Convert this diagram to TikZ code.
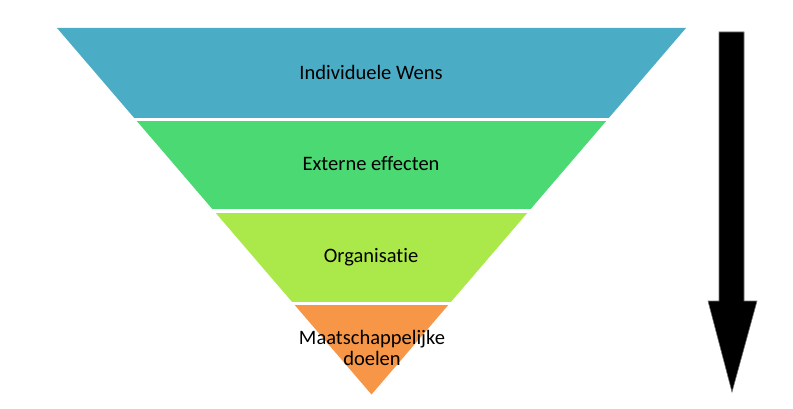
\documentclass[tikz,border=0pt]{standalone}
\usepackage{fontspec}
\setmainfont[Ligatures=NoCommon]{Carlito}
\definecolor{bandA}{RGB}{75,172,198}
\definecolor{bandB}{RGB}{74,217,114}
\definecolor{bandC}{RGB}{171,232,74}
\definecolor{bandD}{RGB}{247,150,70}
\begin{document}
\begin{tikzpicture}[x=1pt,y=-1pt,
  lbl/.style={font=\fontsize{20.5}{21}\selectfont, align=center, text=black, inner sep=0pt},
  gap/.style={draw=white, line width=3pt}]
\useasboundingbox (0,0) rectangle (793,409);
\coordinate (tl) at (57,28);
\coordinate (tr) at (686,28);
\coordinate (ap) at (371.5,394.5);
% bands
\begin{scope}
  \clip (0,0) rectangle (793,119.5);
  \fill[bandA] (tl) -- (tr) -- (ap) -- cycle;
\end{scope}
\begin{scope}
  \clip (0,119.5) rectangle (793,211);
  \fill[bandB] (tl) -- (tr) -- (ap) -- cycle;
\end{scope}
\begin{scope}
  \clip (0,211) rectangle (793,303.5);
  \fill[bandC] (tl) -- (tr) -- (ap) -- cycle;
\end{scope}
\begin{scope}
  \clip (0,303.5) rectangle (793,409);
  \fill[bandD] (tl) -- (tr) -- (ap) -- cycle;
\end{scope}
\draw[gap] (0,119.5) -- (793,119.5);
\draw[gap] (0,211) -- (793,211);
\draw[gap] (0,303.5) -- (793,303.5);
% labels
\node[lbl] (n1) at (371,72) {Individuele Wens};
\node[lbl] (n2) at (371,164) {Externe effecten};
\node[lbl] (n3) at (371,257) {Organisatie};
\node[lbl] (n4) at (372,348) {Maatschappelijke\\doelen};
% arrow
\fill[black, draw=black!55, line width=0.6pt]
  (719,32) -- (744,32) -- (744,301) -- (757,301) -- (732,392) -- (708,301) -- (719,301) -- cycle;
\end{tikzpicture}
\end{document}
